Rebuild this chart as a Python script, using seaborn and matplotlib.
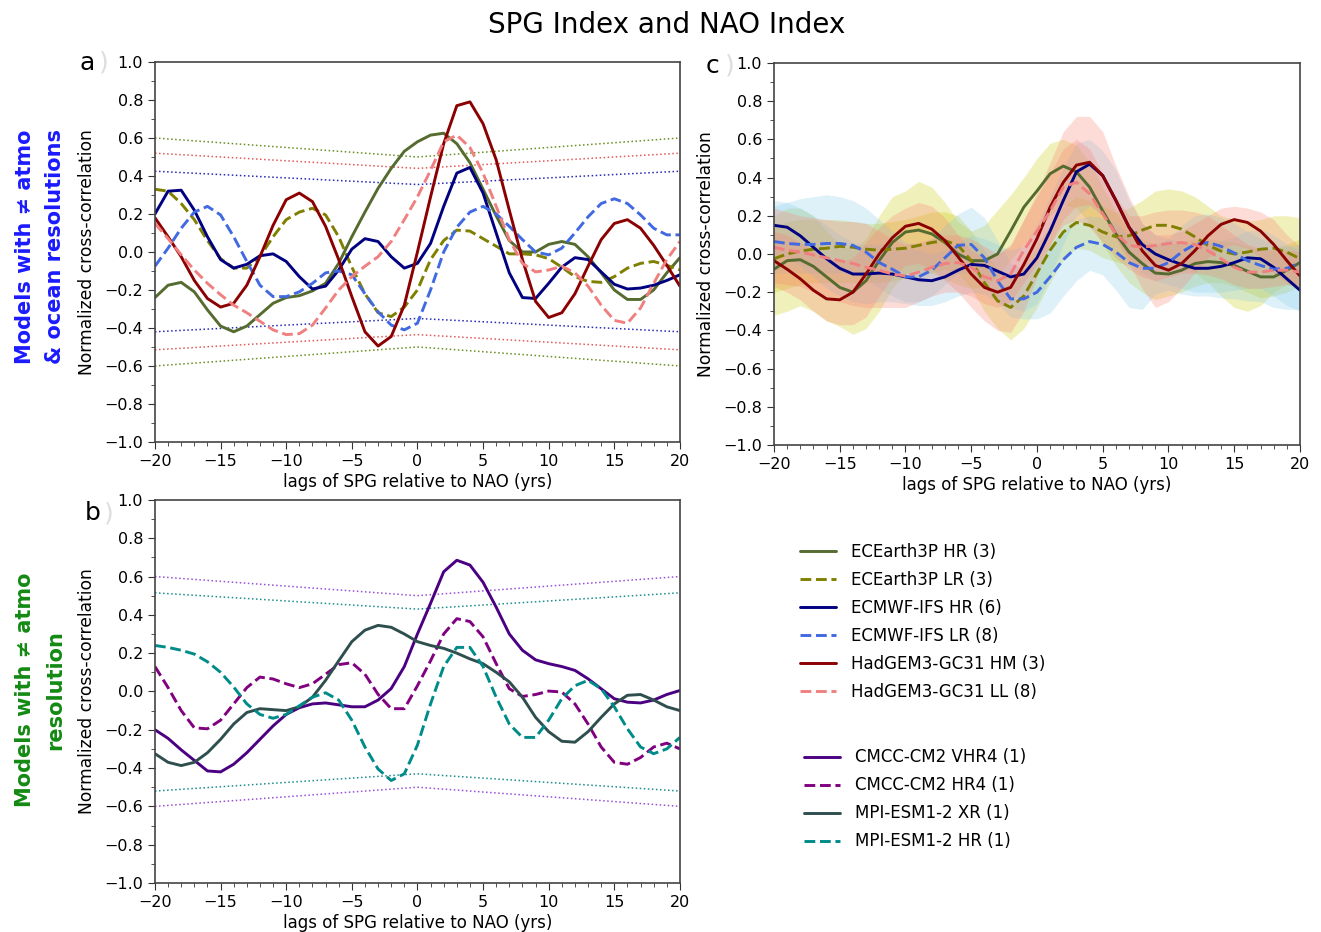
import numpy as np
import pandas as pd
import seaborn as sns
import matplotlib
matplotlib.use("Agg")
import matplotlib.pyplot as plt
from matplotlib.ticker import MultipleLocator
from matplotlib import font_manager

# ---------------- data (lags -20 .. 20 yrs) ----------------
lags = list(range(-20, 21))

# panel a : models with different atmo & ocean resolution
a_ece_hr = [-0.24, -0.175, -0.16, -0.21, -0.305, -0.39, -0.42, -0.39, -0.33, -0.27,
            -0.24, -0.23, -0.205, -0.165, -0.06, 0.08, 0.21, 0.335, 0.44, 0.53,
            0.58,
            0.615, 0.625, 0.57, 0.47, 0.33, 0.19, 0.06, 0.0, 0.0, 0.04,
            0.055, 0.04, -0.025, -0.11, -0.2, -0.25, -0.25, -0.2, -0.11, -0.03]
a_ece_lr = [0.33, 0.32, 0.255, 0.17, 0.06, -0.035, -0.085, -0.085, -0.025, 0.08,
            0.17, 0.21, 0.23, 0.195, 0.08, -0.08, -0.22, -0.32, -0.34, -0.29,
            -0.2,
            -0.04, 0.06, 0.115, 0.11, 0.07, 0.03, -0.01, -0.01, -0.015, -0.035,
            -0.08, -0.13, -0.155, -0.16, -0.13, -0.085, -0.06, -0.05, -0.07, -0.095]
a_ecm_hr = [0.2, 0.32, 0.325, 0.22, 0.08, -0.04, -0.085, -0.065, -0.02, -0.01,
            -0.05, -0.13, -0.195, -0.18, -0.095, 0.015, 0.07, 0.055, -0.025, -0.085,
            -0.06,
            0.045, 0.24, 0.415, 0.445, 0.31, 0.1, -0.11, -0.24, -0.245, -0.165,
            -0.08, -0.03, -0.04, -0.105, -0.17, -0.195, -0.19, -0.175, -0.15, -0.12]
a_ecm_lr = [-0.075, 0.02, 0.125, 0.21, 0.24, 0.195, 0.08, -0.05, -0.175, -0.235,
            -0.235, -0.21, -0.165, -0.11, -0.1, -0.12, -0.22, -0.315, -0.385, -0.41,
            -0.375,
            -0.2, 0.0, 0.13, 0.21, 0.24, 0.2, 0.135, 0.065, 0.0, -0.015,
            0.02, 0.1, 0.185, 0.255, 0.28, 0.255, 0.195, 0.125, 0.09, 0.09]
a_had_hm = [0.18, 0.08, -0.025, -0.15, -0.245, -0.29, -0.27, -0.175, -0.025, 0.14,
            0.275, 0.31, 0.265, 0.135, -0.04, -0.235, -0.42, -0.495, -0.445, -0.28,
            0.0,
            0.29, 0.57, 0.77, 0.79, 0.675, 0.485, 0.22, -0.04, -0.26, -0.345,
            -0.32, -0.22, -0.075, 0.065, 0.15, 0.17, 0.125, 0.035, -0.07, -0.18]
a_had_ll = [0.15, 0.07, -0.015, -0.095, -0.165, -0.225, -0.28, -0.32, -0.365, -0.41,
            -0.435, -0.43, -0.385, -0.295, -0.2, -0.13, -0.075, -0.025, 0.055, 0.17,
            0.29,
            0.43, 0.58, 0.615, 0.55, 0.415, 0.24, 0.065, -0.06, -0.105, -0.095,
            -0.075, -0.11, -0.18, -0.28, -0.36, -0.375, -0.295, -0.165, -0.04, 0.055]

# panel b : models with different atmo resolution only
b_cmcc_vhr = [-0.2, -0.245, -0.305, -0.36, -0.415, -0.42, -0.38, -0.32, -0.25, -0.18,
              -0.12, -0.085, -0.065, -0.06, -0.07, -0.08, -0.08, -0.045, 0.015, 0.13,
              0.3,
              0.46, 0.625, 0.685, 0.66, 0.57, 0.44, 0.3, 0.215, 0.165, 0.145,
              0.13, 0.11, 0.066, 0.014, -0.038, -0.056, -0.06, -0.045, -0.016, 0.005]
b_cmcc_hr = [0.13, 0.02, -0.1, -0.19, -0.195, -0.15, -0.065, 0.02, 0.075, 0.065,
             0.04, 0.02, 0.04, 0.09, 0.14, 0.15, 0.09, -0.015, -0.09, -0.09,
             0.03,
             0.16, 0.3, 0.38, 0.365, 0.285, 0.145, 0.014, -0.026, -0.016, 0.002,
             -0.003, -0.065, -0.17, -0.29, -0.37, -0.38, -0.345, -0.29, -0.27, -0.3]
b_mpi_xr = [-0.325, -0.37, -0.387, -0.37, -0.32, -0.25, -0.17, -0.11, -0.09, -0.095,
            -0.1, -0.08, -0.03, 0.058, 0.16, 0.26, 0.32, 0.345, 0.335, 0.3,
            0.26,
            0.24, 0.225, 0.2, 0.17, 0.145, 0.1, 0.05, -0.03, -0.135, -0.21,
            -0.26, -0.265, -0.21, -0.135, -0.065, -0.02, -0.016, -0.045, -0.08, -0.1]
b_mpi_hr = [0.24, 0.23, 0.215, 0.195, 0.155, 0.1, 0.023, -0.065, -0.12, -0.14,
            -0.12, -0.075, -0.03, -0.007, -0.045, -0.15, -0.29, -0.405, -0.465, -0.43,
            -0.28,
            -0.065, 0.13, 0.23, 0.23, 0.13, -0.03, -0.17, -0.24, -0.24, -0.15,
            -0.038, 0.03, 0.058, 0.014, -0.08, -0.195, -0.29, -0.325, -0.3, -0.24]

# significance levels (dotted), given at lags -20, 0, 20
sig_lags = [-20, 0, 20]
a_sig_ece_up, a_sig_ece_lo = [0.6, 0.5, 0.6], [-0.6, -0.5, -0.6]
a_sig_had_up, a_sig_had_lo = [0.52, 0.44, 0.52], [-0.515, -0.435, -0.515]
a_sig_ecm_up, a_sig_ecm_lo = [0.425, 0.355, 0.425], [-0.42, -0.35, -0.42]
b_sig_cmcc_up, b_sig_cmcc_lo = [0.6, 0.5, 0.6], [-0.6, -0.5, -0.6]
b_sig_mpi_up, b_sig_mpi_lo = [0.515, 0.43, 0.515], [-0.52, -0.43, -0.52]

# panel c : ensemble means and member spread
c_ece_hr = [-0.08, -0.035, -0.03, -0.065, -0.12, -0.175, -0.2, -0.14, -0.035, 0.06,
            0.115, 0.125, 0.105, 0.06, 0.0, -0.035, -0.035, 0.0, 0.12, 0.245,
            0.33,
            0.42, 0.46, 0.43, 0.35, 0.225, 0.105, 0.01, -0.05, -0.1, -0.105,
            -0.085, -0.05, -0.04, -0.045, -0.06, -0.09, -0.12, -0.12, -0.085, -0.045]
c_ece_lr = [-0.025, 0.0, 0.015, 0.025, 0.03, 0.04, 0.035, 0.025, 0.02, 0.025,
            0.03, 0.045, 0.06, 0.07, 0.045, -0.035, -0.15, -0.245, -0.28, -0.22,
            -0.1,
            0.02, 0.115, 0.165, 0.15, 0.115, 0.09, 0.095, 0.125, 0.15, 0.15,
            0.13, 0.09, 0.045, 0.015, 0.0, 0.01, 0.025, 0.03, 0.01, -0.025]
c_ecm_hr = [0.15, 0.14, 0.095, 0.035, -0.025, -0.075, -0.105, -0.105, -0.1, -0.105,
            -0.12, -0.135, -0.14, -0.12, -0.085, -0.055, -0.06, -0.09, -0.12, -0.105,
            -0.02,
            0.12, 0.28, 0.43, 0.47, 0.41, 0.28, 0.14, 0.05, 0.0, -0.03,
            -0.055, -0.075, -0.075, -0.065, -0.045, -0.02, -0.025, -0.07, -0.13, -0.19]
c_ecm_lr = [0.065, 0.055, 0.05, 0.05, 0.055, 0.055, 0.045, 0.01, -0.045, -0.08,
            -0.12, -0.12, -0.085, -0.02, 0.045, 0.05, -0.02, -0.14, -0.235, -0.235,
            -0.2,
            -0.12, -0.03, 0.035, 0.065, 0.05, 0.01, -0.045, -0.075, -0.075, -0.045,
            0.01, 0.05, 0.06, 0.04, 0.005, -0.035, -0.06, -0.08, -0.075, -0.045]
c_had_hm = [-0.035, -0.08, -0.13, -0.19, -0.235, -0.24, -0.2, -0.105, 0.0, 0.085,
            0.145, 0.16, 0.13, 0.07, -0.015, -0.105, -0.175, -0.2, -0.175, -0.055,
            0.08,
            0.245, 0.375, 0.465, 0.48, 0.41, 0.28, 0.14, 0.017, -0.06, -0.085,
            -0.05, 0.017, 0.095, 0.155, 0.18, 0.165, 0.12, 0.05, -0.035, -0.115]
c_had_ll = [0.035, 0.02, 0.01, -0.005, -0.02, -0.035, -0.05, -0.07, -0.085, -0.105,
            -0.115, -0.095, -0.07, -0.05, -0.045, -0.07, -0.12, -0.14, -0.105, 0.02,
            0.12,
            0.225, 0.35, 0.375, 0.315, 0.21, 0.105, 0.045, 0.035, 0.045, 0.055,
            0.06, 0.05, 0.017, -0.025, -0.07, -0.095, -0.095, -0.085, -0.085, -0.095]

c_ece_hr_lo = [-0.32, -0.3, -0.27, -0.3, -0.35, -0.38, -0.42, -0.39, -0.3, -0.18,
               -0.1, -0.08, -0.1, -0.13, -0.16, -0.18, -0.17, -0.12, -0.03, 0.05,
               0.12,
               0.2, 0.26, 0.24, 0.16, 0.05, -0.06, -0.15, -0.2, -0.24, -0.22,
               -0.2, -0.17, -0.15, -0.15, -0.17, -0.2, -0.23, -0.22, -0.2, -0.17]
c_ece_hr_hi = [0.2, 0.24, 0.24, 0.2, 0.12, 0.05, 0.02, 0.08, 0.2, 0.3,
               0.33, 0.38, 0.35, 0.27, 0.17, 0.12, 0.15, 0.23, 0.31, 0.4,
               0.5,
               0.58, 0.6, 0.57, 0.48, 0.35, 0.22, 0.12, 0.08, 0.05, 0.05,
               0.06, 0.08, 0.08, 0.07, 0.06, 0.04, 0.02, 0.02, 0.05, 0.08]
c_ece_lr_lo = [-0.2, -0.18, -0.16, -0.15, -0.15, -0.15, -0.15, -0.15, -0.15, -0.14,
               -0.13, -0.12, -0.1, -0.08, -0.1, -0.18, -0.3, -0.39, -0.45, -0.39,
               -0.28,
               -0.15, -0.03, 0.03, 0.02, -0.02, -0.04, -0.06, -0.05, -0.05, -0.03,
               -0.05, -0.1, -0.15, -0.22, -0.28, -0.3, -0.27, -0.2, -0.16, -0.18]
c_ece_lr_hi = [0.15, 0.17, 0.18, 0.18, 0.18, 0.18, 0.17, 0.16, 0.16, 0.17,
               0.18, 0.2, 0.22, 0.22, 0.2, 0.12, 0.02, -0.08, -0.12, -0.05,
               0.05,
               0.15, 0.25, 0.3, 0.28, 0.25, 0.22, 0.24, 0.28, 0.33, 0.34,
               0.33, 0.3, 0.25, 0.2, 0.18, 0.17, 0.18, 0.2, 0.2, 0.19]
c_ecm_hr_lo = [0.0, -0.02, -0.06, -0.12, -0.18, -0.22, -0.25, -0.26, -0.25, -0.25,
               -0.26, -0.27, -0.27, -0.25, -0.22, -0.2, -0.21, -0.25, -0.28, -0.3,
               -0.26,
               -0.12, 0.05, 0.2, 0.25, 0.2, 0.08, -0.02, -0.1, -0.14, -0.16,
               -0.18, -0.2, -0.2, -0.2, -0.19, -0.18, -0.18, -0.22, -0.27, -0.3]
c_ecm_hr_hi = [0.28, 0.27, 0.24, 0.2, 0.15, 0.1, 0.06, 0.05, 0.05, 0.04,
               0.03, 0.02, 0.0, 0.02, 0.06, 0.1, 0.08, 0.05, 0.02, 0.04,
               0.15,
               0.3, 0.45, 0.58, 0.6, 0.54, 0.44, 0.28, 0.16, 0.1, 0.08,
               0.06, 0.05, 0.06, 0.07, 0.09, 0.12, 0.13, 0.1, 0.05, 0.02]
c_ecm_lr_lo = [-0.1, -0.1, -0.1, -0.1, -0.1, -0.1, -0.1, -0.13, -0.18, -0.22,
               -0.25, -0.25, -0.22, -0.16, -0.1, -0.1, -0.16, -0.26, -0.33, -0.34,
               -0.34,
               -0.31, -0.22, -0.14, -0.085, -0.11, -0.19, -0.28, -0.29, -0.21, -0.19,
               -0.21, -0.22, -0.22, -0.23, -0.235, -0.245, -0.25, -0.28, -0.29, -0.29]
c_ecm_lr_hi = [0.25, 0.27, 0.29, 0.3, 0.31, 0.3, 0.28, 0.24, 0.18, 0.12,
               0.06, 0.05, 0.08, 0.15, 0.21, 0.245, 0.19, 0.07, -0.05, -0.08,
               -0.05,
               0.05, 0.12, 0.18, 0.2, 0.19, 0.16, 0.1, 0.06, 0.05, 0.08,
               0.15, 0.2, 0.21, 0.19, 0.16, 0.12, 0.08, 0.05, 0.04, 0.05]
c_had_hm_lo = [-0.17, -0.2, -0.24, -0.3, -0.35, -0.37, -0.37, -0.33, -0.22, -0.12,
               -0.06, -0.05, -0.08, -0.14, -0.2, -0.28, -0.35, -0.4, -0.41, -0.3,
               -0.12,
               0.05, 0.18, 0.25, 0.26, 0.2, 0.08, -0.05, -0.18, -0.28, -0.25,
               -0.18, -0.1, -0.02, 0.03, 0.05, 0.03, -0.02, -0.1, -0.15, -0.18]
c_had_hm_hi = [0.12, 0.1, 0.06, 0.02, -0.02, -0.04, -0.02, 0.06, 0.14, 0.2,
               0.24, 0.27, 0.25, 0.19, 0.1, 0.02, -0.02, 0.0, 0.05, 0.18,
               0.32,
               0.48, 0.64, 0.72, 0.72, 0.64, 0.46, 0.3, 0.16, 0.1, 0.1,
               0.12, 0.16, 0.2, 0.24, 0.25, 0.24, 0.22, 0.18, 0.1, 0.04]
c_had_ll_lo = [-0.15, -0.16, -0.17, -0.2, -0.22, -0.25, -0.27, -0.28, -0.28, -0.28,
               -0.28, -0.25, -0.22, -0.2, -0.2, -0.22, -0.26, -0.28, -0.25, -0.15,
               -0.05,
               0.05, 0.15, 0.18, 0.14, 0.06, -0.02, -0.08, -0.12, -0.14, -0.12,
               -0.1, -0.1, -0.11, -0.13, -0.16, -0.18, -0.18, -0.17, -0.16, -0.17]
c_had_ll_hi = [0.24, 0.22, 0.2, 0.19, 0.18, 0.17, 0.17, 0.16, 0.12, 0.08,
               0.05, 0.06, 0.08, 0.1, 0.1, 0.08, 0.04, 0.0, 0.04, 0.18,
               0.3,
               0.42, 0.55, 0.6, 0.55, 0.42, 0.3, 0.2, 0.2, 0.22, 0.23,
               0.23, 0.22, 0.2, 0.15, 0.1, 0.05, 0.03, 0.02, 0.02, 0.01]

labels_a = ["ECEarth3P HR (3)", "ECEarth3P LR (3)", "ECMWF-IFS HR (6)",
            "ECMWF-IFS LR (8)", "HadGEM3-GC31 HM (3)", "HadGEM3-GC31 LL (8)"]
labels_b = ["CMCC-CM2 VHR4 (1)", "CMCC-CM2 HR4 (1)", "MPI-ESM1-2 XR (1)",
            "MPI-ESM1-2 HR (1)"]
yticks = [-1.0, -0.8, -0.6, -0.4, -0.2, 0.0, 0.2, 0.4, 0.6, 0.8, 1.0]

# ---------------- style ----------------
sns.set_style("ticks")
plt.rcParams['font.family'] = ['DejaVu Sans']
plt.rcParams['text.color'] = 'black'
plt.rcParams['axes.labelcolor'] = 'black'
plt.rcParams['axes.edgecolor'] = '#444444'
plt.rcParams['xtick.color'] = '#333333'
plt.rcParams['ytick.color'] = '#333333'
plt.rcParams['xtick.labelcolor'] = 'black'
plt.rcParams['ytick.labelcolor'] = 'black'

installed = {f.name for f in font_manager.fontManager.ttflist}
if 'Liberation Sans Narrow' in installed:
    narrow = 'Liberation Sans Narrow'
    lab_fs, row_fs = 13.5, 17
else:
    narrow = 'DejaVu Sans'
    lab_fs, row_fs = 12.3, 15

fig = plt.figure(figsize=(13.21, 9.32), dpi=100)
ax_a = fig.add_axes([0.1173, 0.5258, 0.3974, 0.4077])
ax_b = fig.add_axes([0.1173, 0.0526, 0.3974, 0.4110])
ax_c = fig.add_axes([0.5859, 0.5225, 0.3982, 0.4100])

styles_a = [("#556B2F", "-"), ("#808000", "--"), ("#000080", "-"),
            ("#4169E1", "--"), ("#8B0000", "-"), ("#F08080", "--")]
styles_b = [("#4B0082", "-"), ("#800080", "--"), ("#2F4F4F", "-"), ("#008B8B", "--")]

# panel a
for s_up, s_lo, col in [(a_sig_ece_up, a_sig_ece_lo, "#6B8E23"),
                        (a_sig_had_up, a_sig_had_lo, "#E05A5A"),
                        (a_sig_ecm_up, a_sig_ecm_lo, "#2828B4")]:
    sns.lineplot(x=sig_lags, y=s_up, ax=ax_a, color=col, linestyle=":", linewidth=1.1)
    sns.lineplot(x=sig_lags, y=s_lo, ax=ax_a, color=col, linestyle=":", linewidth=1.1)
for vals, (col, ls), lab in zip([a_ece_hr, a_ece_lr, a_ecm_hr, a_ecm_lr, a_had_hm, a_had_ll],
                                styles_a, labels_a):
    sns.lineplot(x=lags, y=vals, ax=ax_a, color=col, linestyle=ls, linewidth=2.1, label=lab)

# panel b
for s_up, s_lo, col in [(b_sig_cmcc_up, b_sig_cmcc_lo, "#9A4FD6"),
                        (b_sig_mpi_up, b_sig_mpi_lo, "#1E8C8C")]:
    sns.lineplot(x=sig_lags, y=s_up, ax=ax_b, color=col, linestyle=":", linewidth=1.1)
    sns.lineplot(x=sig_lags, y=s_lo, ax=ax_b, color=col, linestyle=":", linewidth=1.1)
for vals, (col, ls), lab in zip([b_cmcc_vhr, b_cmcc_hr, b_mpi_xr, b_mpi_hr], styles_b, labels_b):
    sns.lineplot(x=lags, y=vals, ax=ax_b, color=col, linestyle=ls, linewidth=2.1, label=lab)

# panel c : spreads then means
bands = [(c_ece_hr_lo, c_ece_hr_hi, "#C8C800"), (c_ece_lr_lo, c_ece_lr_hi, "#C8C800"),
         (c_ecm_hr_lo, c_ecm_hr_hi, "#87CEEB"), (c_ecm_lr_lo, c_ecm_lr_hi, "#87CEEB"),
         (c_had_hm_lo, c_had_hm_hi, "#FA8072"), (c_had_ll_lo, c_had_ll_hi, "#FA8072")]
for lo, hi, col in bands:
    ax_c.fill_between(lags, lo, hi, color=col, alpha=0.27, linewidth=0)
for vals, (col, ls) in zip([c_ece_hr, c_ece_lr, c_ecm_hr, c_ecm_lr, c_had_hm, c_had_ll], styles_a):
    sns.lineplot(x=lags, y=vals, ax=ax_c, color=col, linestyle=ls, linewidth=2.1)

for ax in (ax_a, ax_b, ax_c):
    if ax.get_legend() is not None:
        ax.get_legend().remove()
    ax.set_xlim(-20, 20)
    ax.set_ylim(-1.0, 1.0)
    ax.xaxis.set_major_locator(MultipleLocator(5))
    ax.xaxis.set_minor_locator(MultipleLocator(1))
    ax.yaxis.set_minor_locator(MultipleLocator(0.1))
    ax.set_yticks(yticks)
    ax.set_yticklabels([f"{v:.1f}".replace("-", "\u2212") for v in yticks])
    ax.tick_params(which='major', labelsize=11.5, length=5)
    ax.tick_params(which='minor', length=3)
    ax.set_xlabel("lags of SPG relative to NAO (yrs)", fontsize=12, labelpad=3)
    ax.set_ylabel("Normalized cross-correlation", fontsize=lab_fs, family=narrow, labelpad=6)
    for sp in ax.spines.values():
        sp.set_visible(True)
        sp.set_linewidth(1.2)

fig.suptitle("SPG Index and NAO Index", fontsize=20, x=0.505, y=0.988)

# panel letters
for xpos, ypos, letter in [(0.060, 0.925, "a"), (0.064, 0.442, "b"), (0.534, 0.922, "c")]:
    fig.text(xpos, ypos, letter, fontsize=18)
    fig.text(xpos + 0.015, ypos, ")", fontsize=18, color="#dddddd")

# row labels
fig.text(0.019, 0.735, "Models with \u2260 atmo", rotation=90, fontsize=row_fs, color="#1A1AFF",
         fontweight="bold", family=narrow, ha="center", va="center")
fig.text(0.042, 0.735, "& ocean resolutions", rotation=90, fontsize=row_fs, color="#1A1AFF",
         fontweight="bold", family=narrow, ha="center", va="center")
fig.text(0.019, 0.26, "Models with \u2260 atmo", rotation=90, fontsize=row_fs, color="#138A13",
         fontweight="bold", family=narrow, ha="center", va="center")
fig.text(0.042, 0.26, "resolution", rotation=90, fontsize=row_fs, color="#138A13",
         fontweight="bold", family=narrow, ha="center", va="center")

# legends
h_a = ax_a.get_lines()[-6:]
h_b = ax_b.get_lines()[-4:]
fig.legend(h_a, labels_a, loc="upper left", bbox_to_anchor=(0.594, 0.434), frameon=False,
           fontsize=12, handlelength=2.2, handletextpad=0.9, labelspacing=0.6)
fig.legend(h_b, labels_b, loc="upper left", bbox_to_anchor=(0.597, 0.213), frameon=False,
           fontsize=12, handlelength=2.2, handletextpad=0.9, labelspacing=0.6)

fig.savefig("out.png", dpi=100)
